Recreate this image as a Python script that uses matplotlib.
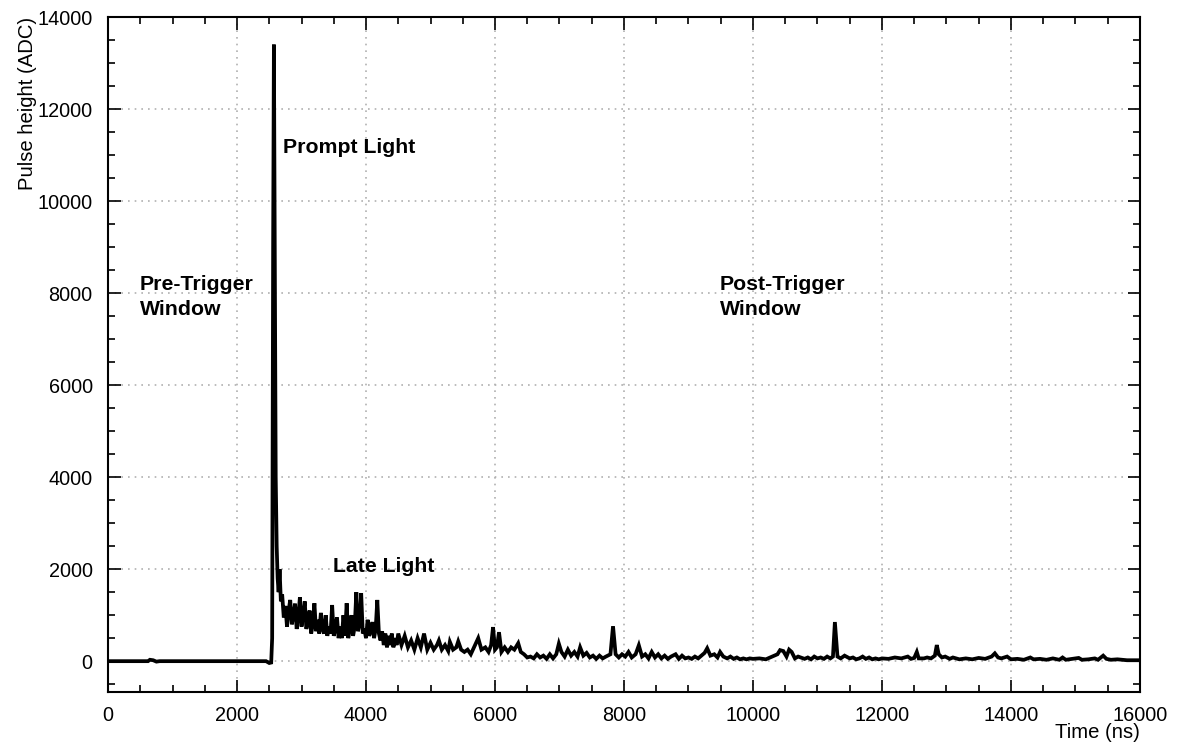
import matplotlib.pyplot as plt
from matplotlib.ticker import MultipleLocator

plt.rcParams['font.family'] = ['Liberation Sans', 'DejaVu Sans']

# pulse samples: time (ns) and height (ADC)
time_ns = [
    0, 550, 620, 650, 700, 750, 800, 2450, 2500, 2530, 2545, 2560, 2572, 2585,
    2600, 2615, 2630, 2645, 2660, 2680,
    2700, 2725, 2750, 2775, 2800, 2825, 2850, 2875, 2900, 2925, 2950, 2975,
    3000, 3025, 3050, 3075, 3100, 3125, 3150, 3175, 3200, 3225, 3250, 3275,
    3300, 3325, 3350, 3375, 3400, 3425, 3450, 3475, 3500, 3525, 3550, 3575,
    3600, 3625, 3650, 3675, 3700, 3725, 3750, 3775, 3800, 3825, 3850, 3875,
    3900, 3925, 3950, 3975, 4000, 4025, 4050, 4075, 4100, 4125, 4150, 4175,
    4200, 4225, 4250, 4275, 4300, 4325, 4350, 4375, 4400, 4425, 4450, 4475,
    4500, 4550, 4600, 4650, 4700, 4750, 4800, 4850, 4900, 4950, 5000, 5050,
    5100, 5130, 5175, 5225, 5275, 5300, 5350, 5400, 5430, 5475, 5525, 5575,
    5625, 5675, 5740, 5790, 5850, 5900, 5940, 5970, 6000, 6030, 6062, 6100,
    6150, 6200, 6250, 6300, 6360, 6400, 6450, 6500, 6550, 6600, 6650, 6700,
    6750, 6800, 6850, 6900, 6950, 6990, 7030, 7080, 7130, 7180, 7230, 7280,
    7320, 7370, 7420, 7470, 7520, 7570, 7620, 7670, 7720, 7790, 7830, 7870,
    7920, 7970, 8020, 8070, 8120, 8180, 8230, 8280, 8330, 8380, 8430, 8480,
    8530, 8580, 8630, 8680, 8730, 8800, 8850, 8900, 8950, 9000, 9050, 9100,
    9150, 9200, 9250, 9290, 9340, 9400, 9450, 9490, 9540, 9600, 9650, 9700,
    9750, 9800, 9850, 9900, 9950, 10000, 10100, 10200, 10300, 10380, 10420,
    10470, 10520, 10560, 10600, 10650, 10700, 10800, 10850, 10900, 10950,
    11000, 11050, 11100, 11150, 11200, 11240, 11270, 11310, 11360, 11420,
    11500, 11550, 11600, 11650, 11700, 11750, 11800, 11850, 11900, 11950,
    12000, 12100, 12200, 12300, 12400, 12450, 12500, 12540, 12570, 12650,
    12700, 12760, 12820, 12850, 12880, 12930, 12980, 13050, 13100, 13200,
    13300, 13400, 13500, 13600, 13700, 13750, 13800, 13850, 13940, 14000,
    14100, 14200, 14300, 14350, 14450, 14550, 14650, 14750, 14800, 14850,
    14950, 15050, 15100, 15200, 15300, 15350, 15430, 15480, 15550, 15650,
    15800, 16000,
]
pulse_adc = [
    0, 0, 0, 30, 20, -10, 0, 0, -40, -30, 500, 9000, 13400, 9000,
    4000, 2500, 1800, 1500, 2000, 1300,
    1450, 950, 1200, 750, 1100, 1330, 800, 1000, 1250, 700, 950, 1390,
    750, 1000, 1300, 700, 850, 1100, 600, 800, 1260, 650, 900, 600,
    1050, 700, 600, 1000, 550, 750, 600, 1220, 550, 700, 950, 500,
    750, 500, 1000, 550, 1260, 500, 700, 1000, 550, 750, 1500, 650,
    800, 1480, 600, 700, 500, 900, 550, 650, 850, 500, 700, 1330,
    600, 450, 650, 350, 600, 300, 550, 350, 600, 300, 500, 350,
    600, 350, 550, 300, 450, 250, 500, 300, 600, 250, 400, 250,
    350, 450, 250, 350, 220, 420, 250, 300, 430, 250, 200, 250,
    150, 300, 500, 250, 300, 200, 350, 740, 250, 300, 630, 200,
    300, 200, 300, 250, 390, 200, 150, 80, 100, 60, 150, 80,
    120, 50, 150, 60, 150, 380, 200, 100, 250, 120, 200, 100,
    300, 120, 180, 80, 120, 50, 120, 60, 100, 150, 760, 150,
    80, 150, 100, 200, 80, 150, 345, 100, 150, 60, 200, 80,
    150, 60, 120, 50, 100, 150, 50, 120, 60, 80, 50, 100,
    60, 120, 180, 280, 120, 150, 80, 200, 100, 60, 100, 50,
    80, 40, 60, 40, 60, 50, 60, 40, 100, 150, 240,
    220, 100, 250, 200, 60, 100, 50, 80, 40, 100,
    60, 80, 50, 100, 60, 100, 850, 100, 60, 120,
    60, 80, 40, 60, 100, 50, 80, 40, 60, 40,
    60, 50, 80, 60, 100, 50, 70, 200, 60, 60,
    80, 60, 120, 350, 150, 80, 100, 50, 80, 40,
    60, 40, 70, 50, 100, 170, 80, 60, 100, 40,
    50, 30, 80, 40, 50, 30, 60, 30, 80, 30,
    50, 70, 30, 40, 60, 30, 120, 50, 30, 40,
    20, 20,
]

labels = [
    (2713, 11170, 'Prompt Light'),
    (3490, 2060, 'Late Light'),
    (496, 7910, 'Pre-Trigger\nWindow'),
    (9490, 7910, 'Post-Trigger\nWindow'),
]

fig = plt.figure(figsize=(11.78, 7.46), dpi=100)
ax = fig.add_axes([0.0917, 0.0724, 0.876, 0.9048])

ax.plot(time_ns, pulse_adc, color='black', lw=2.7, solid_joinstyle='miter')

for x, y, s in labels:
    ax.text(x, y, s, fontsize=15.3, fontweight='bold', va='center', ha='left',
            linespacing=1.4)

ax.set_xlim(0, 16000)
ax.set_ylim(-670, 14000)
ax.xaxis.set_major_locator(MultipleLocator(2000))
ax.xaxis.set_minor_locator(MultipleLocator(500))
ax.yaxis.set_major_locator(MultipleLocator(2000))
ax.yaxis.set_minor_locator(MultipleLocator(500))
ax.tick_params(which='both', direction='in', top=True, right=True,
               labelsize=14.3, width=1.2)
ax.tick_params(which='major', length=9)
ax.tick_params(which='minor', length=5)
ax.tick_params(axis='x', pad=10)
ax.tick_params(axis='y', pad=11)
ax.grid(True, which='major', color='#b0b0b0', ls=(0, (1, 3)), lw=1.2)
ax.set_axisbelow(True)
for sp in ax.spines.values():
    sp.set_linewidth(1.5)

ax.set_xlabel('Time (ns)', fontsize=14.6, loc='right', labelpad=-1)
ax.set_ylabel('Pulse height (ADC)', fontsize=14.6, loc='top', labelpad=0)

fig.savefig('out.png', dpi=100)
